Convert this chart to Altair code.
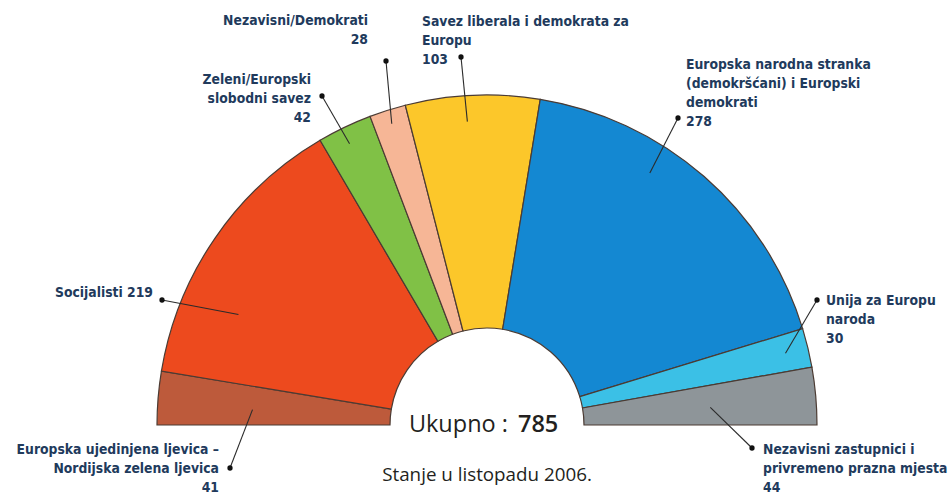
import math
import altair as alt
import pandas as pd

# ---------------- data ----------------
parties = [
    "Europska ujedinjena ljevica – Nordijska zelena ljevica",
    "Socijalisti",
    "Zeleni/Europski slobodni savez",
    "Nezavisni/Demokrati",
    "Savez liberala i demokrata za Europu",
    "Europska narodna stranka (demokršćani) i Europski demokrati",
    "Unija za Europu naroda",
    "Nezavisni zastupnici i privremeno prazna mjesta",
]
seats = [41, 219, 42, 28, 103, 278, 30, 44]
colors = ["#bd5a3b", "#ed4a1e", "#80c146", "#f6b696", "#fcc72a", "#1488d2", "#3bc0e6", "#8e9599"]
label_lines = [
    ["Europska ujedinjena ljevica –", "Nordijska zelena ljevica"],
    ["Socijalisti"],
    ["Zeleni/Europski", "slobodni savez"],
    ["Nezavisni/Demokrati"],
    ["Savez liberala i demokrata za", "Europu"],
    ["Europska narodna stranka", "(demokršćani) i Europski", "demokrati"],
    ["Unija za Europu", "naroda"],
    ["Nezavisni zastupnici i", "privremeno prazna mjesta"],
]
value_inline = [False, True, False, False, False, False, False, False]
total_text = "Ukupno :"
date_text = "Stanje u listopadu 2006."

# ---------------- layout ----------------
W, H = 951, 494
CX, CY = 487, 425
R_OUT, R_IN = 330, 97
LINE_H = 19
# align, text x, first line y, dot x, dot y, anchor fraction in wedge, anchor radius
label_layout = [
    ("right", 219, 450, 230, 468, 0.40, 235),
    ("right", 153, 293, 162, 300, 0.29, 272),
    ("right", 311, 80, 322, 96, 0.45, 313),
    ("right", 368, 21, 386, 61, 0.50, 316),
    ("left", 422, 22, 461, 57, 0.45, 304),
    ("left", 686, 65, 678, 118, 0.37, 300),
    ("left", 826, 301, 817, 300, 0.50, 307),
    ("left", 763, 450, 752, 448, 0.55, 224),
]

total = sum(seats)
df_arc = pd.DataFrame({"party": parties, "seats": seats, "idx": list(range(len(parties)))})

lead_rows, dot_rows, text_rows = [], [], []
cum = 0
for i, (p, s) in enumerate(zip(parties, seats)):
    align, tx, ty, dx, dy, frac, r = label_layout[i]
    a = math.pi * (cum + frac * s) / total
    ex, ey = CX - r * math.cos(a), CY - r * math.sin(a)
    lead_rows.append({"x": dx, "y": dy, "x2": ex, "y2": ey})
    dot_rows.append({"x": dx, "y": dy})
    lines = list(label_lines[i])
    if value_inline[i]:
        lines[-1] = f"{lines[-1]} {s}"
    else:
        lines.append(str(s))
    for j, ln in enumerate(lines):
        text_rows.append({"x": tx, "y": ty + j * LINE_H, "text": ln, "align": align})
    cum += s

df_lead = pd.DataFrame(lead_rows)
df_dot = pd.DataFrame(dot_rows)
df_text = pd.DataFrame(text_rows)

arcs = alt.Chart(df_arc).mark_arc(stroke="#4b3b33", strokeWidth=1.2).encode(
    theta=alt.Theta("seats:Q", stack=True, scale=alt.Scale(range=[-math.pi / 2, math.pi / 2])),
    order=alt.Order("idx:Q"),
    color=alt.Color("party:N", scale=alt.Scale(domain=parties, range=colors), legend=None),
    x=alt.value(CX),
    y=alt.value(CY),
    radius=alt.value(R_OUT),
    radius2=alt.value(R_IN),
)

leads = alt.Chart(df_lead).mark_rule(color="#2b2b2b", strokeWidth=1.1).encode(
    x=alt.X("x:Q", scale=None, axis=None),
    y=alt.Y("y:Q", scale=None, axis=None),
    x2="x2:Q",
    y2="y2:Q",
)

dots = alt.Chart(df_dot).mark_point(filled=True, color="#111111", size=28, opacity=1).encode(
    x=alt.X("x:Q", scale=None, axis=None),
    y=alt.Y("y:Q", scale=None, axis=None),
)

LABEL_FONT = "Liberation Sans Narrow, DejaVu Sans Condensed, sans-serif"
def text_layer(al):
    return alt.Chart(df_text[df_text["align"] == al]).mark_text(
        align=al, baseline="middle", font=LABEL_FONT, fontSize=13.8,
        fontWeight="bold", color="#213a5c",
    ).encode(
        x=alt.X("x:Q", scale=None, axis=None),
        y=alt.Y("y:Q", scale=None, axis=None),
        text="text:N",
    )

df_center = pd.DataFrame({"t1": [total_text], "t2": [str(total)], "t3": [date_text]})
CENTER_FONT = "Open Sans, Noto Sans, sans-serif"
tot1 = alt.Chart(df_center).mark_text(
    align="right", baseline="middle", font=CENTER_FONT, fontSize=23.5, color="#231f20"
).encode(x=alt.value(508), y=alt.value(425), text="t1:N")
tot2 = alt.Chart(df_center).mark_text(
    align="left", baseline="middle", font=CENTER_FONT, fontSize=23.5, fontWeight=600, color="#231f20"
).encode(x=alt.value(518), y=alt.value(425), text="t2:N")
date = alt.Chart(df_center).mark_text(
    align="center", baseline="middle", font=CENTER_FONT, fontSize=18.8, color="#231f20"
).encode(x=alt.value(487), y=alt.value(475), text="t3:N")

chart = alt.layer(arcs, leads, dots, text_layer("left"), text_layer("right"), tot1, tot2, date).properties(
    width=W, height=H, autosize="none", padding=0, background="white"
).configure_view(stroke=None)

chart.save("out.html", embed_options={"renderer": "svg", "actions": False})
